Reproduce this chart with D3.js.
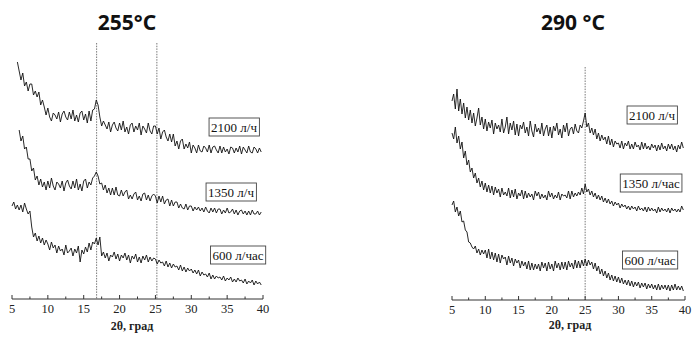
<!DOCTYPE html>
<html><head><meta charset="utf-8">
<script src="https://cdn.jsdelivr.net/npm/d3@7"></script>
<style>body{margin:0;background:#fff}svg{display:block}</style>
</head><body>
<svg id="c" width="692" height="339"></svg>
<script>
// 2θ sampling grid (deg)
const angles = [
5,5.25,5.5,5.75,6,6.25,6.5,6.75,7,7.25,7.5,7.75,8,8.25,8.5,8.75,9,9.25,9.5,9.75,
10,10.25,10.5,10.75,11,11.25,11.5,11.75,12,12.25,12.5,12.75,13,13.25,13.5,13.75,14,14.25,14.5,14.75,
15,15.25,15.5,15.75,16,16.25,16.5,16.75,17,17.25,17.5,17.75,18,18.25,18.5,18.75,19,19.25,19.5,19.75,
20,20.25,20.5,20.75,21,21.25,21.5,21.75,22,22.25,22.5,22.75,23,23.25,23.5,23.75,24,24.25,24.5,24.75,
25,25.25,25.5,25.75,26,26.25,26.5,26.75,27,27.25,27.5,27.75,28,28.25,28.5,28.75,29,29.25,29.5,29.75,
30,30.25,30.5,30.75,31,31.25,31.5,31.75,32,32.25,32.5,32.75,33,33.25,33.5,33.75,34,34.25,34.5,34.75,
35,35.25,35.5,35.75,36,36.25,36.5,36.75,37,37.25,37.5,37.75,38,38.25,38.5,38.75,39,39.25,39.5,39.75];
const xTicks = [5,10,15,20,25,30,35,40];
const minorTicks = [7.5,12.5,17.5,22.5,27.5,32.5,37.5];
const panelTitles = ["255°C", "290 °C"];
const axisTitle = "2θ, град";
const refLinesLeft = [16.8, 25.2];
const refLinesRight = [25.0];

// 255 °C, intensity (a.u., curves stacked)
const L2100 = [null,null,null,237, 228,219,226,213, 217,208,215,215, 204,208,202,207, 194,199,192,184,
 191,182,178,186, 184,180,187,177, 185,188,182,179, 187,180,189,178, 184,177,186,188,
 179,185,176,188, 178,189,190,199, 194,182,173,178, 174,170,177,167, 174,177,171,168,
 176,169,178,167, 172,165,174,176, 167,173,169,176, 164,173,170,166, 176,168,165,173,
 173,165,171,160, 167,169,162,158, 165,157,165,153, 158,150,158,160, 150,155,151,157,
 146,154,151,146, 154,148,147,153, 151,147,154,146, 152,153,149,146, 153,146,152,147,
 150,145,152,151, 146,151,147,153, 145,152,149,146, 153,147,146,152, 150,146,151,147];
const L1350 = [null,null,null,null, 169,158,163,150, 152,140,140,128, 131,119,123,114, 120,112,117,109,
 118,111,121,113, 109,117,115,111, 118,108,116,119, 113,110,118,111, 120,109,115,108,
 118,120,111,117, 114,121,123,127, 123,115,116,109, 114,106,111,104, 111,104,112,104,
 103,109,103,107, 109,100,104,100, 105,107,99,103, 98,105,106,99, 104,98,103,105,
 103,96,103,97, 103,95,99,100, 93,99,93,97, 97,91,95,91, 90,95,89,93,
 93,88,92,89, 92,88,91,87, 92,88,86,91, 87,91,86,90, 90,85,89,86,
 91,86,87,90, 85,89,84,88, 89,85,88,84, 88,84,89,85, 85,88,84,87];
const L600 = [93,97,90,94, 89,94,87,96, 90,85,88,72, 62,66,58,63, 56,61,54,59,
 55,49,57,51, 54,46,53,48, 50,44,54,46, 48,51,43,50, 46,53,37,49,
 45,52,47,56, 49,57,55,61, 54,62,43,47, 41,46,38,44, 42,47,40,45,
 38,44,41,46, 39,44,36,43, 40,45,37,42, 36,43,39,44, 37,42,38,41,
 40,35,39,36, 37,33,38,32, 36,31,35,32, 33,29,34,28, 32,27,31,28,
 30,26,29,25, 29,23,27,24, 25,22,26,20, 24,20,23,21, 22,19,23,18,
 21,19,22,17, 20,17,21,18, 19,16,20,15, 18,16,19,14, 18,15,17,14];

// 290 °C
const R2100 = [198,205,190,210, 188,200,185,196, 181,192,179,189, 176,186,173,181, 191,174,182,170,
 180,168,177,171, 179,165,176,170, 174,167,180,166, 172,182,165,176, 169,178,164,175,
 163,174,170,177, 166,172,163,178, 168,162,175,167, 171,165,176,163, 170,174,163,172,
 161,173,168,176, 164,170,161,174, 167,176,163,170, 172,165,175,168, 166,174,171,178,
 186,172,176,166, 171,164,170,160, 166,158,164,159, 162,155,163,154, 160,152,158,155,
 156,151,158,150, 156,153,158,150, 155,150,157,152, 154,149,157,150, 156,150,153,149,
 155,151,154,148, 154,149,156,150, 153,148,155,150, 155,149,153,147, 154,150,157,151];
const R1350 = [166,160,172,156, 163,150,157,141, 148,134,139,127, 131,121,126,116, 121,112,118,109,
 116,107,114,106, 113,104,112,106, 110,102,111,104, 107,103,111,101, 109,102,110,100,
 106,103,109,100, 108,101,106,102, 105,99,108,103, 107,100,105,101, 104,99,108,102,
 106,100,104,101, 107,99,105,103, 104,101,108,100, 108,102,106,103, 107,104,111,105,
 115,107,110,104, 108,102,106,100, 104,99,103,97, 101,96,100,95, 98,93,97,94,
 96,91,95,92, 94,90,93,89, 93,90,92,88, 93,89,91,88, 92,87,92,88,
 91,88,90,86, 92,87,91,88, 90,87,91,86, 91,88,90,87, 90,87,93,89];
const R600 = [94,98,87,92, 83,88,77,78, 69,67,57,56, 52,50,53,46, 50,44,49,45,
 49,41,50,40, 47,39,46,37, 45,36,44,40, 42,34,43,36, 41,33,40,36,
 39,31,38,33, 37,30,38,29, 36,29,35,30, 35,28,37,31, 36,28,37,30,
 35,28,38,31, 36,29,37,30, 37,29,38,32, 36,30,39,31, 38,31,39,33,
 40,33,39,34, 37,30,36,28, 33,25,30,23, 28,21,26,19, 24,18,23,17,
 22,16,21,15, 19,14,19,13, 18,12,17,13, 17,11,16,12, 16,10,15,11,
 15,10,14,9, 15,9,14,10, 14,9,14,8, 14,9,15,9, 13,9,13,8];

const leftLabels = ["2100 л/ч", "1350 л/ч", "600 л/час"];
const rightLabels = ["2100 л/ч", "1350 л/час", "600 л/час"];

const svg = d3.select("#c");

function panel(cfg) {
  const x = d3.scaleLinear().domain([5, 40]).range(cfg.xr);
  const y = d3.scaleLinear().domain([0, 260]).range([299, 39]);
  const g = svg.append("g");

  cfg.refs.forEach(r => {
    g.append("line").attr("x1", x(r)).attr("x2", x(r))
      .attr("y1", cfg.refTop).attr("y2", cfg.axisY)
      .attr("stroke", "#555").attr("stroke-width", 0.8).attr("stroke-dasharray", "1.5,1.2");
  });

  const line = d3.line().defined(d => d[1] != null)
    .x(d => x(d[0])).y(d => y(d[1]));
  cfg.series.forEach(s => {
    g.append("path").datum(angles.map((a, i) => [a, s[i]]))
      .attr("d", line).attr("fill", "none").attr("stroke", "#111")
      .attr("stroke-width", 0.9).attr("stroke-linejoin", "round");
  });

  const ax = g.append("g").attr("transform", `translate(0,${cfg.axisY})`);
  ax.append("line").attr("x1", x(5)).attr("x2", x(40)).attr("stroke", "#333").attr("stroke-width", 1);
  ax.selectAll(".mj").data(xTicks).enter().append("line")
    .attr("x1", d => x(d)).attr("x2", d => x(d)).attr("y1", 0).attr("y2", -4)
    .attr("stroke", "#333").attr("stroke-width", 1);
  ax.selectAll(".mn").data(minorTicks).enter().append("line")
    .attr("x1", d => x(d)).attr("x2", d => x(d)).attr("y1", 0).attr("y2", -2.5)
    .attr("stroke", "#333").attr("stroke-width", 1);
  ax.selectAll(".tl").data(xTicks).enter().append("text")
    .attr("x", d => x(d)).attr("y", cfg.tickY - cfg.axisY)
    .attr("text-anchor", "middle").attr("font-family", "Liberation Serif, serif")
    .attr("font-size", 12.5).attr("fill", "#222").text(d => d);

  g.append("text").attr("x", cfg.titleX).attr("y", cfg.axTitleY)
    .attr("text-anchor", "middle").attr("font-family", "Liberation Serif, serif")
    .attr("font-weight", "bold").attr("font-size", 12).attr("fill", "#222").text(axisTitle);

  g.append("text").attr("x", cfg.headX).attr("y", 30)
    .attr("text-anchor", "middle").attr("font-family", "Noto Sans, sans-serif")
    .attr("font-weight", "bold").attr("font-size", 21).attr("fill", "#111").text(cfg.head);

  cfg.labels.forEach((t, i) => {
    const lg = g.append("g");
    const txt = lg.append("text").attr("x", cfg.labelPos[i][0]).attr("y", cfg.labelPos[i][1] + 4.5)
      .attr("text-anchor", "middle").attr("font-family", "Liberation Serif, serif")
      .attr("font-size", 13).attr("fill", "#111").text(t);
    const bb = txt.node().getBBox();
    lg.insert("rect", "text").attr("x", bb.x - 2).attr("y", cfg.labelPos[i][1] - 9)
      .attr("width", bb.width + 4).attr("height", 18)
      .attr("fill", "#fff").attr("stroke", "#444").attr("stroke-width", 0.9);
  });
}

panel({xr: [12, 263], refs: refLinesLeft, refTop: 43, axisY: 299, tickY: 313,
  series: [L2100, L1350, L600], titleX: 132, axTitleY: 330, headX: 127, head: panelTitles[0],
  labels: leftLabels, labelPos: [[234, 127], [231, 192], [238, 255]]});
panel({xr: [452, 685], refs: refLinesRight, refTop: 67, axisY: 300, tickY: 314,
  series: [R2100, R1350, R600], titleX: 570, axTitleY: 329, headX: 573, head: panelTitles[1],
  labels: rightLabels, labelPos: [[652, 115], [651, 183], [650, 260]]});
</script>
</body></html>
